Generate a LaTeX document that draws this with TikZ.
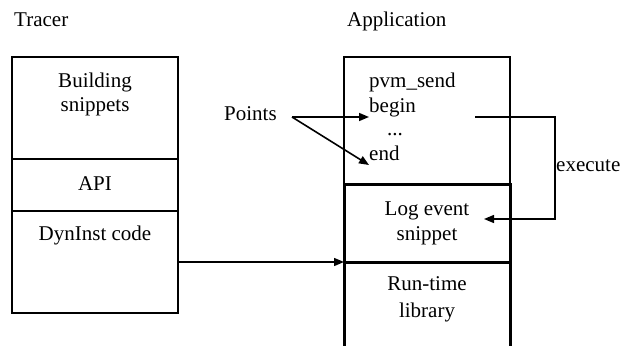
\documentclass[tikz,border=0pt]{standalone}
\usepackage{fontspec}
\setmainfont{Liberation Serif}
\usetikzlibrary{arrows.meta}
\begin{document}
\begin{tikzpicture}[x=1pt,y=-1pt,
  txt/.style={font=\fontsize{21}{25}\selectfont, inner sep=0pt, anchor=base},
  thinbox/.style={draw, line width=1.4pt},
  thickbox/.style={draw, line width=3pt},
  arr/.style={line width=1.6pt, -{Triangle[length=10pt,width=8pt]}}]
\useasboundingbox (0,0) rectangle (620,345);
% Tracer
\node[txt, anchor=base west] (tracer) at (14,27) {Tracer};
\draw[thinbox] (12,57) rectangle (178,313);
\draw[thinbox] (12,159) -- (178,159);
\draw[thinbox] (12,211) -- (178,211);
\node[txt] (build1) at (95,87) {Building};
\node[txt] (build2) at (95,111) {snippets};
\node[txt] (api) at (95,190) {API};
\node[txt] (dyn) at (95,240) {DynInst code};
\coordinate (dynout) at (178,262);
% Application
\node[txt, anchor=base west] (app) at (347,27) {Application};
\draw[thinbox] (344,57) rectangle (510,184);
\draw[thickbox] (344,184) rectangle (510,360);
\draw[thickbox] (344,262) -- (510,262);
\coordinate (rtin) at (344,262);
\node[txt, anchor=base west] (pvm) at (369,87) {pvm\_send};
\node[txt, anchor=base west] (begin) at (369,112) {begin};
\node[txt, anchor=base west] (dots) at (387,135) {...};
\node[txt, anchor=base west] (end) at (369,160) {end};
\node[txt] (log1) at (427,215) {Log event};
\node[txt] (log2) at (427,240) {snippet};
\node[txt] (rt1) at (427,290) {Run-time};
\node[txt] (rt2) at (427,317) {library};
% Points
\node[txt, anchor=base west] (points) at (224,120) {Points};
\coordinate (pfrom) at (292,117);
\coordinate (pbegin) at (369,117);
\coordinate (pend) at (369,165);
\draw[arr] (pfrom) -- (pbegin);
\draw[arr] (pfrom) -- (pend);
% execute
\coordinate (exfrom) at (475,117);
\coordinate (exc1) at (555,117);
\coordinate (exc2) at (555,219);
\coordinate (exto) at (484,219);
\draw[arr, line width=1.4pt] (exfrom) -- (exc1) -- (exc2) -- (exto);
\node[txt, anchor=base west] (execute) at (556,171) {execute};
% DynInst arrow
\draw[arr, line width=1.4pt] (dynout) -- (rtin);
\end{tikzpicture}
\end{document}
